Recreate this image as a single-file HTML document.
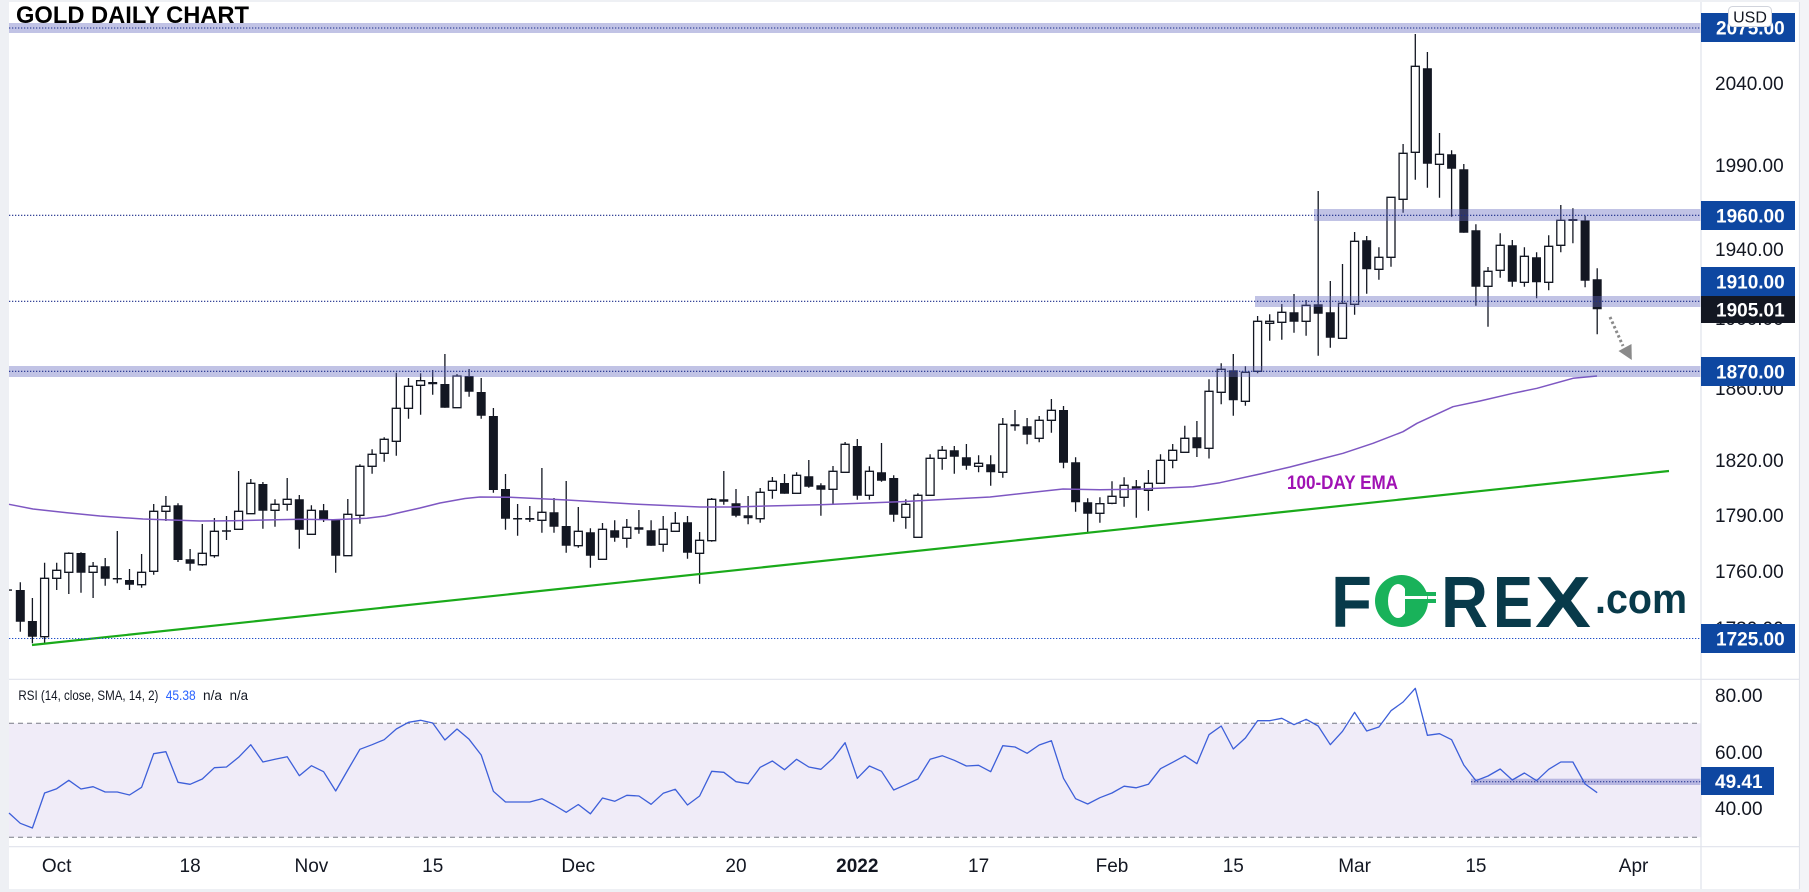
<!DOCTYPE html>
<html><head><meta charset="utf-8"><style>
html,body{margin:0;padding:0;background:#fff;}
body{width:1809px;height:892px;overflow:hidden;}
svg{display:block;font-family:"Liberation Sans",Arial,sans-serif;}
</style></head><body>
<svg width="1809" height="892" viewBox="0 0 1809 892" xmlns="http://www.w3.org/2000/svg">
<rect x="0" y="0" width="1809" height="892" fill="#eef0f4"/>
<rect x="9" y="2" width="1790" height="887" fill="#ffffff"/>

<rect x="9" y="723.3" width="1692" height="114" fill="#f0ecf8"/>
<path d="M9 723.3H1701M9 837.3H1701" stroke="#787b86" stroke-width="1" stroke-dasharray="5 4"/>
<rect x="1471" y="778.7" width="230" height="6.3" fill="rgba(100,104,190,0.4)"/>
<path d="M1471 781.7H1701" stroke="#1c2d8a" stroke-width="1" stroke-dasharray="1.3 1.7"/>
<polyline fill="none" stroke="#3d5fd9" stroke-width="1.3" stroke-linejoin="round" points="9,813 20.3,823.3 32.4,828 44.6,793 56.7,788.7 68.8,780.3 81,789 93.1,786.7 105.2,792 117.3,792 129.5,795 141.6,787.3 153.7,753.7 165.9,751.7 178,782.3 190.1,784.3 202.3,779 214.4,767.7 226.5,767 238.6,757.3 250.8,744.7 262.9,762 275,759.3 287.2,756.7 299.3,775.7 311.4,765.7 323.6,771.7 335.7,791 347.8,770 359.9,749.3 372.1,744.7 384.2,739.7 396.3,729 408.5,722.3 420.6,720.3 432.7,723 444.9,740 457,729 469.1,739.3 481.2,755 493.4,791.3 505.5,802 517.6,802 529.8,802 541.9,798.7 554,805 566.2,812.3 578.3,804.5 590.4,813.8 602.5,798 614.7,801.3 626.8,795.3 638.9,796 651.1,804.3 663.2,793.3 675.3,789.3 687.5,805 699.6,796 711.7,771.3 723.8,772.3 736,781.7 748.1,783.7 760.2,767.3 772.4,761 784.5,769.7 796.6,759.3 808.8,767 820.9,769.3 833,758.3 845.1,742.7 857.3,778.3 869.4,766 881.5,771.3 893.7,790 905.8,784.7 917.9,779 930.1,759.3 942.2,755.7 954.3,760.3 966.4,766 978.6,765.3 990.7,771.7 1002.8,745.7 1015,747 1027.1,753.3 1039.2,745 1051.4,740.7 1063.5,778.3 1075.6,798.7 1087.7,804 1099.9,797.7 1112,793 1124.1,786.2 1136.3,787.8 1148.4,784.3 1160.5,768.7 1172.7,762.3 1184.8,755.7 1196.9,763.7 1209,734.7 1221.2,726 1233.3,749 1245.4,738 1257.6,720.7 1269.7,720.7 1281.8,718.3 1294,724.7 1306.1,719.3 1318.2,726 1330.3,744.7 1342.5,731.3 1354.6,712.3 1366.7,731 1378.9,727 1391,710.7 1403.1,702 1415.3,688.3 1427.4,735.3 1439.5,733.7 1451.6,739.7 1463.8,765 1475.9,780.7 1488,776 1500.2,769 1512.3,780 1524.4,773 1536.6,780.7 1548.7,769.3 1560.8,762 1572.9,762 1585.1,784 1597.2,792.7"/>

<path fill="none" stroke="#131722" stroke-width="1.3" d="M20.3 582.3V631.7M32.4 598V643.3M44.6 562.7V643M56.7 562.7V590M68.8 552.3V594M81 552.3V592.7M93.1 562V598M105.2 558V585.7M117.3 531V583.3M129.5 569V590M141.6 554V587.7M153.7 504V574.7M165.9 496V521M178 503.3V562M190.1 549V570.7M202.3 524V565.7M214.4 518V557.7M226.5 516V540M238.6 471V529.3M250.8 479V513.7M262.9 482V528.7M275 499.3V526.7M287.2 478V510.7M299.3 495V548.7M311.4 505.3V534.3M323.6 504V522M335.7 519.3V572.7M347.8 499V555.7M359.9 464.3V523.7M372.1 449.3V473.7M384.2 437.3V461.7M396.3 372.7V455.7M408.5 378V418.7M420.6 373.3V414.7M432.7 370V394.7M444.9 354V407.7M457 374V407.7M469.1 369V396.7M481.2 378V418.7M493.4 408V492.7M505.5 474V529.7M517.6 504V535.7M529.8 506V522M541.9 468V532.7M554 498V532.7M566.2 481V552.7M578.3 507V547.7M590.4 528.3V567.7M602.5 523V559.3M614.7 520.3V541.7M626.8 519V547.7M638.9 510V533.7M651.1 520.3V545.7M663.2 516V551.7M675.3 512V531.3M687.5 516V558.7M699.6 532V583.7M711.7 498V541.7M723.8 471V504.7M736 489V517.3M748.1 496V524.3M760.2 488V522.7M772.4 477V498.7M784.5 474V493.7M796.6 472.3V493.3M808.8 460V487.7M820.9 483.3V515.7M833 466V504.3M845.1 442V472.3M857.3 439V499.7M869.4 466.3V499.7M881.5 443V481.7M893.7 475.3V521.7M905.8 499.3V528.7M917.9 493.3V537.3M930.1 454.3V495.3M942.2 446V469.7M954.3 446V473.7M966.4 444V469.7M978.6 455.3V472.3M990.7 455.3V485.7M1002.8 418V477.7M1015 410V430.7M1027.1 418V444.3M1039.2 416V442.3M1051.4 399V432.7M1063.5 406V468.3M1075.6 457.3V511.7M1087.7 498.3V532.3M1099.9 497.3V522.7M1112 481.3V504.3M1124.1 477.3V506.7M1136.3 480V517.7M1148.4 470V510.7M1160.5 454.3V483.3M1172.7 444V468.3M1184.8 425.7V452.3M1196.9 421V457M1209 379.3V458.5M1221.2 363.3V404.3M1233.3 354V415.7M1245.4 366.3V405.7M1257.6 316V373.3M1269.7 314.3V340.7M1281.8 304V339.7M1294 294V332.7M1306.1 300V335.7M1318.2 191V355.7M1330.3 281V347.7M1342.5 264V338.3M1354.6 232V314.7M1366.7 236V293.7M1378.9 247.3V279.7M1391 197.3V266.7M1403.1 144V212.7M1415.3 34V179.7M1427.4 52V187.7M1439.5 133V197.7M1451.6 150.3V216.7M1463.8 164V232.7M1475.9 224.3V305.7M1488 267V326.7M1500.2 233.3V277.7M1512.3 240V286.7M1524.4 247.3V286.7M1536.6 252.3V298.3M1548.7 235.3V290.3M1560.8 205V252.3M1572.9 208.3V243.3M1585.1 215.7V287.3M1597.2 268.3V334.3"/>

<path fill="#131722" d="M9 589.4h3v1.4h-3zM15.8 590h9v31.7h-9zM27.9 621h9v15.7h-9zM76.5 553h9v19.7h-9zM100.7 566.3h9v12.4h-9zM112.8 578h9v1.5h-9zM125 580h9v4.7h-9zM173.5 505.3h9v54.7h-9zM185.6 559.3h9v4.4h-9zM222 530.3h9v1.5h-9zM258.4 484h9v26.7h-9zM294.8 499.3h9v30.4h-9zM319.1 510.3h9v9.4h-9zM331.2 520h9v35.7h-9zM428.2 382h9v2.3h-9zM440.4 384h9v23.7h-9zM464.6 376h9v15.7h-9zM476.7 392h9v23.7h-9zM488.9 416h9v74h-9zM501 489h9v29.7h-9zM513.1 518h9v1.5h-9zM525.3 518h9v1.7h-9zM549.5 512.3h9v14.4h-9zM561.7 526h9v19.7h-9zM585.9 532.3h9v23.4h-9zM610.2 530.3h9v7.4h-9zM634.4 527.3h9v2.4h-9zM646.6 530.3h9v15.4h-9zM683 522.3h9v30.4h-9zM719.3 499.3h9v2.4h-9zM731.5 503.3h9v12.4h-9zM743.6 515.3h9v3h-9zM780 483h9v10.7h-9zM804.3 476.3h9v10.4h-9zM816.4 485.3h9v4.4h-9zM852.8 446h9v49.7h-9zM877 472.3h9v8.4h-9zM889.2 478h9v36.7h-9zM949.8 450.3h9v6.4h-9zM961.9 457.3h9v8.4h-9zM986.2 464.3h9v8h-9zM1010.5 424.3h9v2h-9zM1022.6 426.3h9v8.4h-9zM1059 410h9v52.7h-9zM1071.1 462.3h9v40h-9zM1083.2 502.3h9v11.4h-9zM1131.8 486.3h9v3.4h-9zM1192.4 437.3h9v11h-9zM1228.8 370.3h9v30h-9zM1289.5 312.3h9v9.4h-9zM1313.7 304.3h9v9.4h-9zM1325.8 312.3h9v25.4h-9zM1362.2 240.3h9v29h-9zM1422.9 68.3h9v95.4h-9zM1447.1 154.3h9v14.4h-9zM1459.3 169.3h9v63.4h-9zM1471.4 230.3h9v56.4h-9zM1507.8 245.3h9v36.4h-9zM1532 257.3h9v25h-9zM1568.4 219h9v2h-9zM1580.6 220.3h9v60.4h-9zM1592.7 279.3h9v30h-9z"/>

<path fill="#ffffff" stroke="#131722" stroke-width="1.3" d="M40.6 578.3h8v58.4h-8zM52.7 570.3h8v8h-8zM64.8 553.3h8v19h-8zM89.1 566.3h8v6h-8zM137.6 572.3h8v12.4h-8zM149.7 511.3h8v60h-8zM161.9 506.3h8v5h-8zM198.3 553.3h8v11.4h-8zM210.4 531.3h8v24.4h-8zM234.6 511.3h8v18h-8zM246.8 483.3h8v30.4h-8zM271 504.3h8v6h-8zM283.2 499.3h8v5h-8zM307.4 510.3h8v24h-8zM343.8 514.3h8v41.4h-8zM355.9 466.3h8v49h-8zM368.1 454.3h8v12h-8zM380.2 439.3h8v14h-8zM392.3 408.3h8v33h-8zM404.5 386.3h8v22h-8zM416.6 380.7h8v4.6h-8zM453 376h8v31.7h-8zM537.9 512.3h8v8h-8zM574.3 531.3h8v14.4h-8zM598.5 529.3h8v30h-8zM622.8 527.3h8v11h-8zM659.2 529.3h8v15h-8zM671.3 523.3h8v8h-8zM695.6 540.3h8v13h-8zM707.7 499.3h8v41.4h-8zM756.2 492.3h8v26.4h-8zM768.4 481.3h8v9h-8zM792.6 475.3h8v18h-8zM829 471.3h8v18h-8zM841.1 444.3h8v28h-8zM865.4 471.3h8v24h-8zM901.8 504.3h8v13h-8zM913.9 495.3h8v42h-8zM926.1 458.3h8v37h-8zM938.2 450.3h8v8h-8zM974.6 463.3h8v3h-8zM998.8 424.3h8v48h-8zM1035.2 420.3h8v18h-8zM1047.4 410.3h8v10h-8zM1095.9 503.7h8v9.6h-8zM1108 496.3h8v7h-8zM1120.1 485.3h8v12h-8zM1144.4 483.3h8v7h-8zM1156.5 460.3h8v23h-8zM1168.7 450.3h8v10h-8zM1180.8 438.3h8v14h-8zM1205 391.3h8v57h-8zM1217.2 369.3h8v23h-8zM1241.4 372.3h8v29h-8zM1253.6 321.3h8v50h-8zM1265.7 321.3h8v2h-8zM1277.8 312.3h8v10h-8zM1302.1 305.3h8v16h-8zM1338.5 303.3h8v35h-8zM1350.6 241.3h8v63h-8zM1374.9 257.3h8v12h-8zM1387 197.3h8v60h-8zM1399.1 153.3h8v46h-8zM1411.3 66.3h8v86h-8zM1435.5 154.3h8v10h-8zM1484 271.3h8v15h-8zM1496.2 245.3h8v25h-8zM1520.4 256.3h8v26h-8zM1544.7 246.3h8v36h-8zM1556.8 220.3h8v25h-8z"/>

<polyline fill="none" stroke="#7e57c2" stroke-width="1.5" stroke-linejoin="round" points="9,504.3 33,509 67,512.7 100,516 143,519 200,521 233,520.7 300,519.3 333,519.7 367,518.3 385,516 400,512.5 420,508 440,503 465,498.5 480,497 510,497.3 567,500 633,504 700,507 733,507 767,506 820,504.7 900,501.7 990,497 1033,492.3 1063,489 1100,489.7 1133,489.3 1193,486.7 1220,482.7 1260,474 1290,467 1317,460 1343,453.3 1373,443.3 1403,431.7 1417,423.3 1453,406.7 1480,401 1513,393.3 1537,388.3 1573,378.3 1597,376"/>

<line x1="32" y1="645" x2="1669" y2="471" stroke="#1aaa1a" stroke-width="2.2"/>

<path fill="rgba(100,104,190,0.4)" d="M9 23h1692v10H9zM1314 209h387v12h-387zM1255 296h446v11h-446zM9 366h1692v11H9z"/>
<path d="M9 28H1701M9 215.3H1701M9 301.3H1701M9 371.3H1701" stroke="#1c2d8a" stroke-width="1.1" stroke-dasharray="1.3 1.7"/>
<path d="M9 638.5H1701" stroke="#1f4fc8" stroke-width="1.1" stroke-dasharray="1.3 1.7"/>

<line x1="1610" y1="317" x2="1623" y2="346" stroke="#8a8a8a" stroke-width="3" stroke-dasharray="2.5 2.5"/>
<polygon points="1618.5,351 1631.5,344 1631.8,360" fill="#8a8a8a"/>

<text x="1287" y="489" font-size="19" font-weight="bold" fill="#a012b4" textLength="111" lengthAdjust="spacingAndGlyphs">100-DAY EMA</text>

<g font-weight="bold" fill="#083a4a">
<text x="1331" y="627" font-size="72" textLength="41" lengthAdjust="spacingAndGlyphs">F</text>
<text x="1441" y="627" font-size="72" textLength="47" lengthAdjust="spacingAndGlyphs">R</text>
<text x="1493" y="627" font-size="72" textLength="40" lengthAdjust="spacingAndGlyphs">E</text>
<text x="1535" y="627" font-size="72" textLength="56" lengthAdjust="spacingAndGlyphs">X</text>
<text x="1595" y="613" font-size="42" textLength="92" lengthAdjust="spacingAndGlyphs">.com</text>
</g>
<ellipse cx="1401.5" cy="601" rx="26.5" ry="26" fill="#19b25a"/>
<ellipse cx="1398" cy="601" rx="10" ry="17" fill="#ffffff"/>
<path fill="#19b25a" d="M1405 588h7v26h-7zM1405 592h31v4h-31zM1405 599h31v4h-31z"/>
<rect x="1405" y="596" width="22" height="3" fill="#ffffff"/>

<text x="16" y="23" font-size="24" font-weight="bold" fill="#000" textLength="233" lengthAdjust="spacingAndGlyphs">GOLD DAILY CHART</text>

<rect x="1701" y="2" width="98" height="887" fill="#ffffff"/>
<path d="M1701 2V889M9 679.3H1799M9 846.7H1799M1799.5 2V889" stroke="#e0e3eb" stroke-width="1.2"/>
<rect x="1800" y="0" width="9" height="892" fill="#f3f4f7"/>

<g font-size="19" fill="#131722">
<text x="1715" y="90">2040.00</text>
<text x="1715" y="172">1990.00</text>
<text x="1715" y="256">1940.00</text>
<text x="1715" y="325">1900.00</text>
<text x="1715" y="395">1860.00</text>
<text x="1715" y="467">1820.00</text>
<text x="1715" y="522">1790.00</text>
<text x="1715" y="578">1760.00</text>
<text x="1715" y="635">1730.00</text>
<text x="1715" y="702">80.00</text>
<text x="1715" y="759">60.00</text>
<text x="1715" y="815">40.00</text>
</g>

<path fill="#0e47a1" d="M1701 13h94v29h-94zM1701 201h94v29h-94zM1701 267h94v29h-94zM1701 357h94v29h-94zM1701 624h94v29h-94zM1701 767h73v28h-73z"/>
<rect x="1701" y="296" width="94" height="27" fill="#131722"/>
<g font-size="19" font-weight="bold" fill="#ffffff">
<text x="1716" y="34.5">2075.00</text>
<text x="1716" y="222.5">1960.00</text>
<text x="1716" y="288.5">1910.00</text>
<text x="1716" y="316.5">1905.01</text>
<text x="1716" y="378.5">1870.00</text>
<text x="1716" y="645.5">1725.00</text>
<text x="1715" y="788">49.41</text>
</g>
<rect x="1728.5" y="6.5" width="43" height="20" rx="4" fill="#ffffff" stroke="#d1d4dc" stroke-width="1"/>
<text x="1750" y="22.5" font-size="16" fill="#131722" text-anchor="middle">USD</text>

<g font-size="19" fill="#131722" text-anchor="middle">
<text x="56.7" y="872">Oct</text>
<text x="190.1" y="872">18</text>
<text x="311.4" y="872">Nov</text>
<text x="432.7" y="872">15</text>
<text x="578.3" y="872">Dec</text>
<text x="736" y="872">20</text>
<text x="857.3" y="872" font-weight="bold">2022</text>
<text x="978.6" y="872">17</text>
<text x="1112" y="872">Feb</text>
<text x="1233.3" y="872">15</text>
<text x="1354.6" y="872">Mar</text>
<text x="1475.9" y="872">15</text>
<text x="1633.6" y="872">Apr</text>
</g>

<g font-size="13.5">
<text x="18.4" y="700" fill="#131722" textLength="140" lengthAdjust="spacingAndGlyphs">RSI (14, close, SMA, 14, 2)</text>
<text x="165.7" y="700" fill="#2962ff" textLength="30" lengthAdjust="spacingAndGlyphs">45.38</text>
<text x="203" y="700" fill="#131722" textLength="19" lengthAdjust="spacingAndGlyphs">n/a</text>
<text x="229.6" y="700" fill="#131722" textLength="18.5" lengthAdjust="spacingAndGlyphs">n/a</text>
</g>
</svg>
</body></html>
